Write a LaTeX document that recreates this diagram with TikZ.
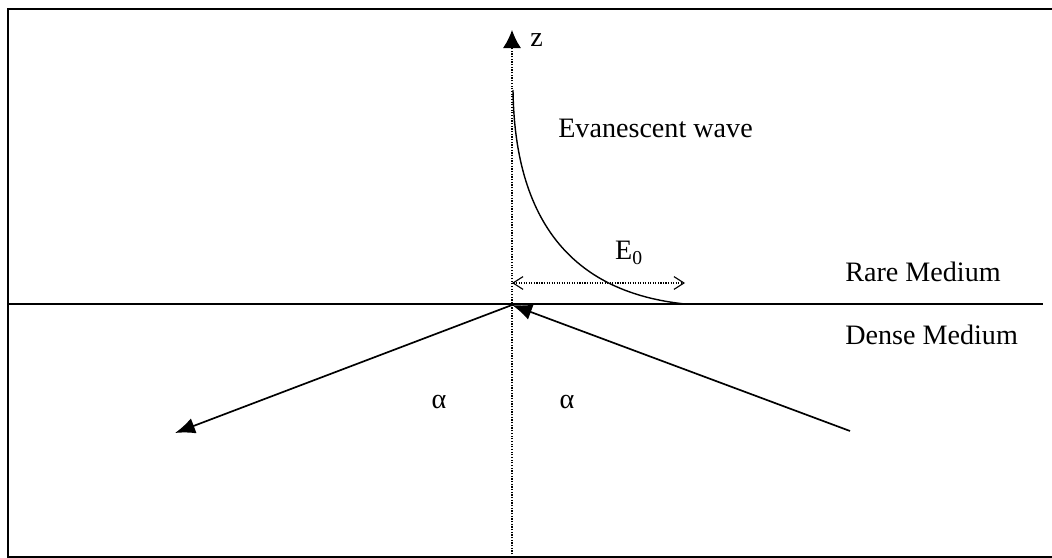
\documentclass[tikz,border=0pt]{standalone}
\usepackage{fontspec}
\setmainfont{Liberation Serif}
\usetikzlibrary{arrows.meta}

\begin{document}
\begin{tikzpicture}[
  x=0.025cm, y=-0.025cm,
  every node/.append style={font=\fontsize{20}{24}\selectfont, inner sep=0pt},
  frameline/.style={line width=1.3pt},
  interface/.style={line width=1.3pt},
  axisline/.style={densely dotted, line width=0.9pt},
  ray/.style={
    line width=1.2pt,
    -{Latex[length=0.5cm, width=0.4cm]}
  },
  wave/.style={line width=1pt},
  ampline/.style={
    densely dotted, line width=0.8pt,
    {Straight Barb[length=0.25cm, width=0.32cm]}-{Straight Barb[length=0.25cm, width=0.32cm]}
  }
]
\useasboundingbox (0,0) rectangle (1052,558);

% frame
\draw[frameline] (1052,9) -- (8,9) -- (8,557) -- (1052,557);

\coordinate (O) at (512,305);
\coordinate (ztip) at (512,30);
\coordinate (zbot) at (512,557);
\coordinate (ifl) at (8,304);
\coordinate (ifr) at (1043,304);
\coordinate (inc) at (850,431);
\coordinate (refl) at (175,433);
\coordinate (wtop) at (513,90);
\coordinate (wend) at (685,304);
\coordinate (al) at (512,283);
\coordinate (ar) at (685,283);

\draw[interface] (ifl) -- (ifr);
\draw[axisline, -{Latex[length=0.45cm, width=0.45cm]}] (zbot) -- (ztip);
\node[anchor=west] (zlab) at (530,40) {z};

% evanescent field
\draw[wave] (wtop) .. controls (515,250) and (600,295) .. (wend);
\draw[ampline] (al) -- (ar);
\node[anchor=west] (ev) at (558,128) {Evanescent wave};
\node (e0) at (629,253) {E\textsubscript{0}};

\node[anchor=west] (rare) at (845,272) {Rare Medium};
\node[anchor=west] (dense) at (845,335) {Dense Medium};

% rays
\draw[ray] (inc) -- (O);
\draw[ray] (O) -- (refl);
\node (a1) at (439,402) {α};
\node (a2) at (567,402) {α};

\end{tikzpicture}
\end{document}
